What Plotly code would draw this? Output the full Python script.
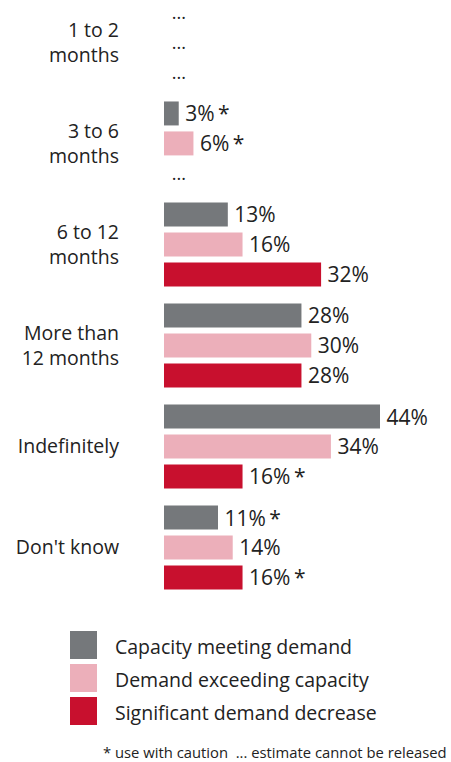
import plotly.graph_objects as go

# Survey responses: expected duration of the current situation
categories = ["1 to 2<br>months", "3 to 6<br>months", "6 to 12<br>months",
              "More than<br>12 months", "Indefinitely", "Don't know"]

series_names = ["Capacity meeting demand", "Demand exceeding capacity",
                "Significant demand decrease"]
series_colors = ["#75787b", "#ecafba", "#c8102e"]

capacity_meeting = [None, 3, 13, 28, 44, 11]
capacity_caution = [False, True, False, False, False, True]

demand_exceeding = [None, 6, 16, 30, 34, 14]
exceeding_caution = [False, True, False, False, False, False]

demand_decrease = [None, None, 32, 28, 16, 16]
decrease_caution = [False, False, False, False, True, True]

footnote = "* use with caution  ... estimate cannot be released"

FONT = "Open Sans"
TEXT_COLOR = "#222222"
FONT_SIZE = 19.5
VALUE_SIZE = 21
DOTS_SIZE = 18
W, H = 451, 762
MARGIN = dict(l=164, r=0, t=2, b=164)


def px_to_paper_x(px):
    return (px - MARGIN["l"]) / (W - MARGIN["l"] - MARGIN["r"])


def px_to_paper_y(py):
    plot_h = H - MARGIN["t"] - MARGIN["b"]
    return 1 - (py - MARGIN["t"]) / plot_h


def label(v, caution):
    if v is None:
        return " ..."
    return "\u2009" + f"{v}%" + ("\u2009*" if caution else "")


fig = go.Figure()
for name, color, values, flags in zip(
        series_names, series_colors,
        [capacity_meeting, demand_exceeding, demand_decrease],
        [capacity_caution, exceeding_caution, decrease_caution]):
    fig.add_trace(go.Bar(
        y=categories,
        x=[0 if v is None else v for v in values],
        orientation="h",
        name=name,
        marker=dict(color=color, line=dict(width=0)),
        text=[label(v, c) for v, c in zip(values, flags)],
        textposition="outside",
        constraintext="none",
        textfont=dict(family=FONT,
                      size=[DOTS_SIZE if v is None else VALUE_SIZE for v in values],
                      color=TEXT_COLOR),
        cliponaxis=False,
        showlegend=False,
        hoverinfo="skip",
    ))

# Legend drawn as large colour squares with labels
legend_rows = [645, 678, 711]
for name, color, cy in zip(series_names, series_colors, legend_rows):
    fig.add_shape(type="rect", xref="paper", yref="paper",
                  x0=px_to_paper_x(70), x1=px_to_paper_x(97),
                  y0=px_to_paper_y(cy - 14), y1=px_to_paper_y(cy + 14),
                  fillcolor=color, line=dict(width=0))
    fig.add_annotation(text=name, xref="paper", yref="paper",
                       x=px_to_paper_x(113), y=px_to_paper_y(cy + 1),
                       xanchor="left", yanchor="middle", showarrow=False,
                       font=dict(family=FONT, size=FONT_SIZE, color=TEXT_COLOR))

fig.add_annotation(text=footnote, xref="paper", yref="paper",
                   x=px_to_paper_x(449), y=px_to_paper_y(752),
                   xanchor="right", yanchor="middle", showarrow=False,
                   font=dict(family=FONT, size=14.8, color=TEXT_COLOR))

fig.update_layout(
    width=W, height=H,
    margin=MARGIN,
    paper_bgcolor="white", plot_bgcolor="white",
    barmode="group",
    bargap=0.11,
    bargroupgap=0.2,
    showlegend=False,
    xaxis=dict(range=[0, 287 / 4.909], visible=False, fixedrange=True),
    yaxis=dict(
        range=[5.5, -0.4],
        showgrid=False, zeroline=False, showline=False, ticks="",
        ticklabelstandoff=44,
        tickfont=dict(family=FONT, size=FONT_SIZE, color=TEXT_COLOR),
        fixedrange=True,
    ),
)

fig.write_html("out.html")
